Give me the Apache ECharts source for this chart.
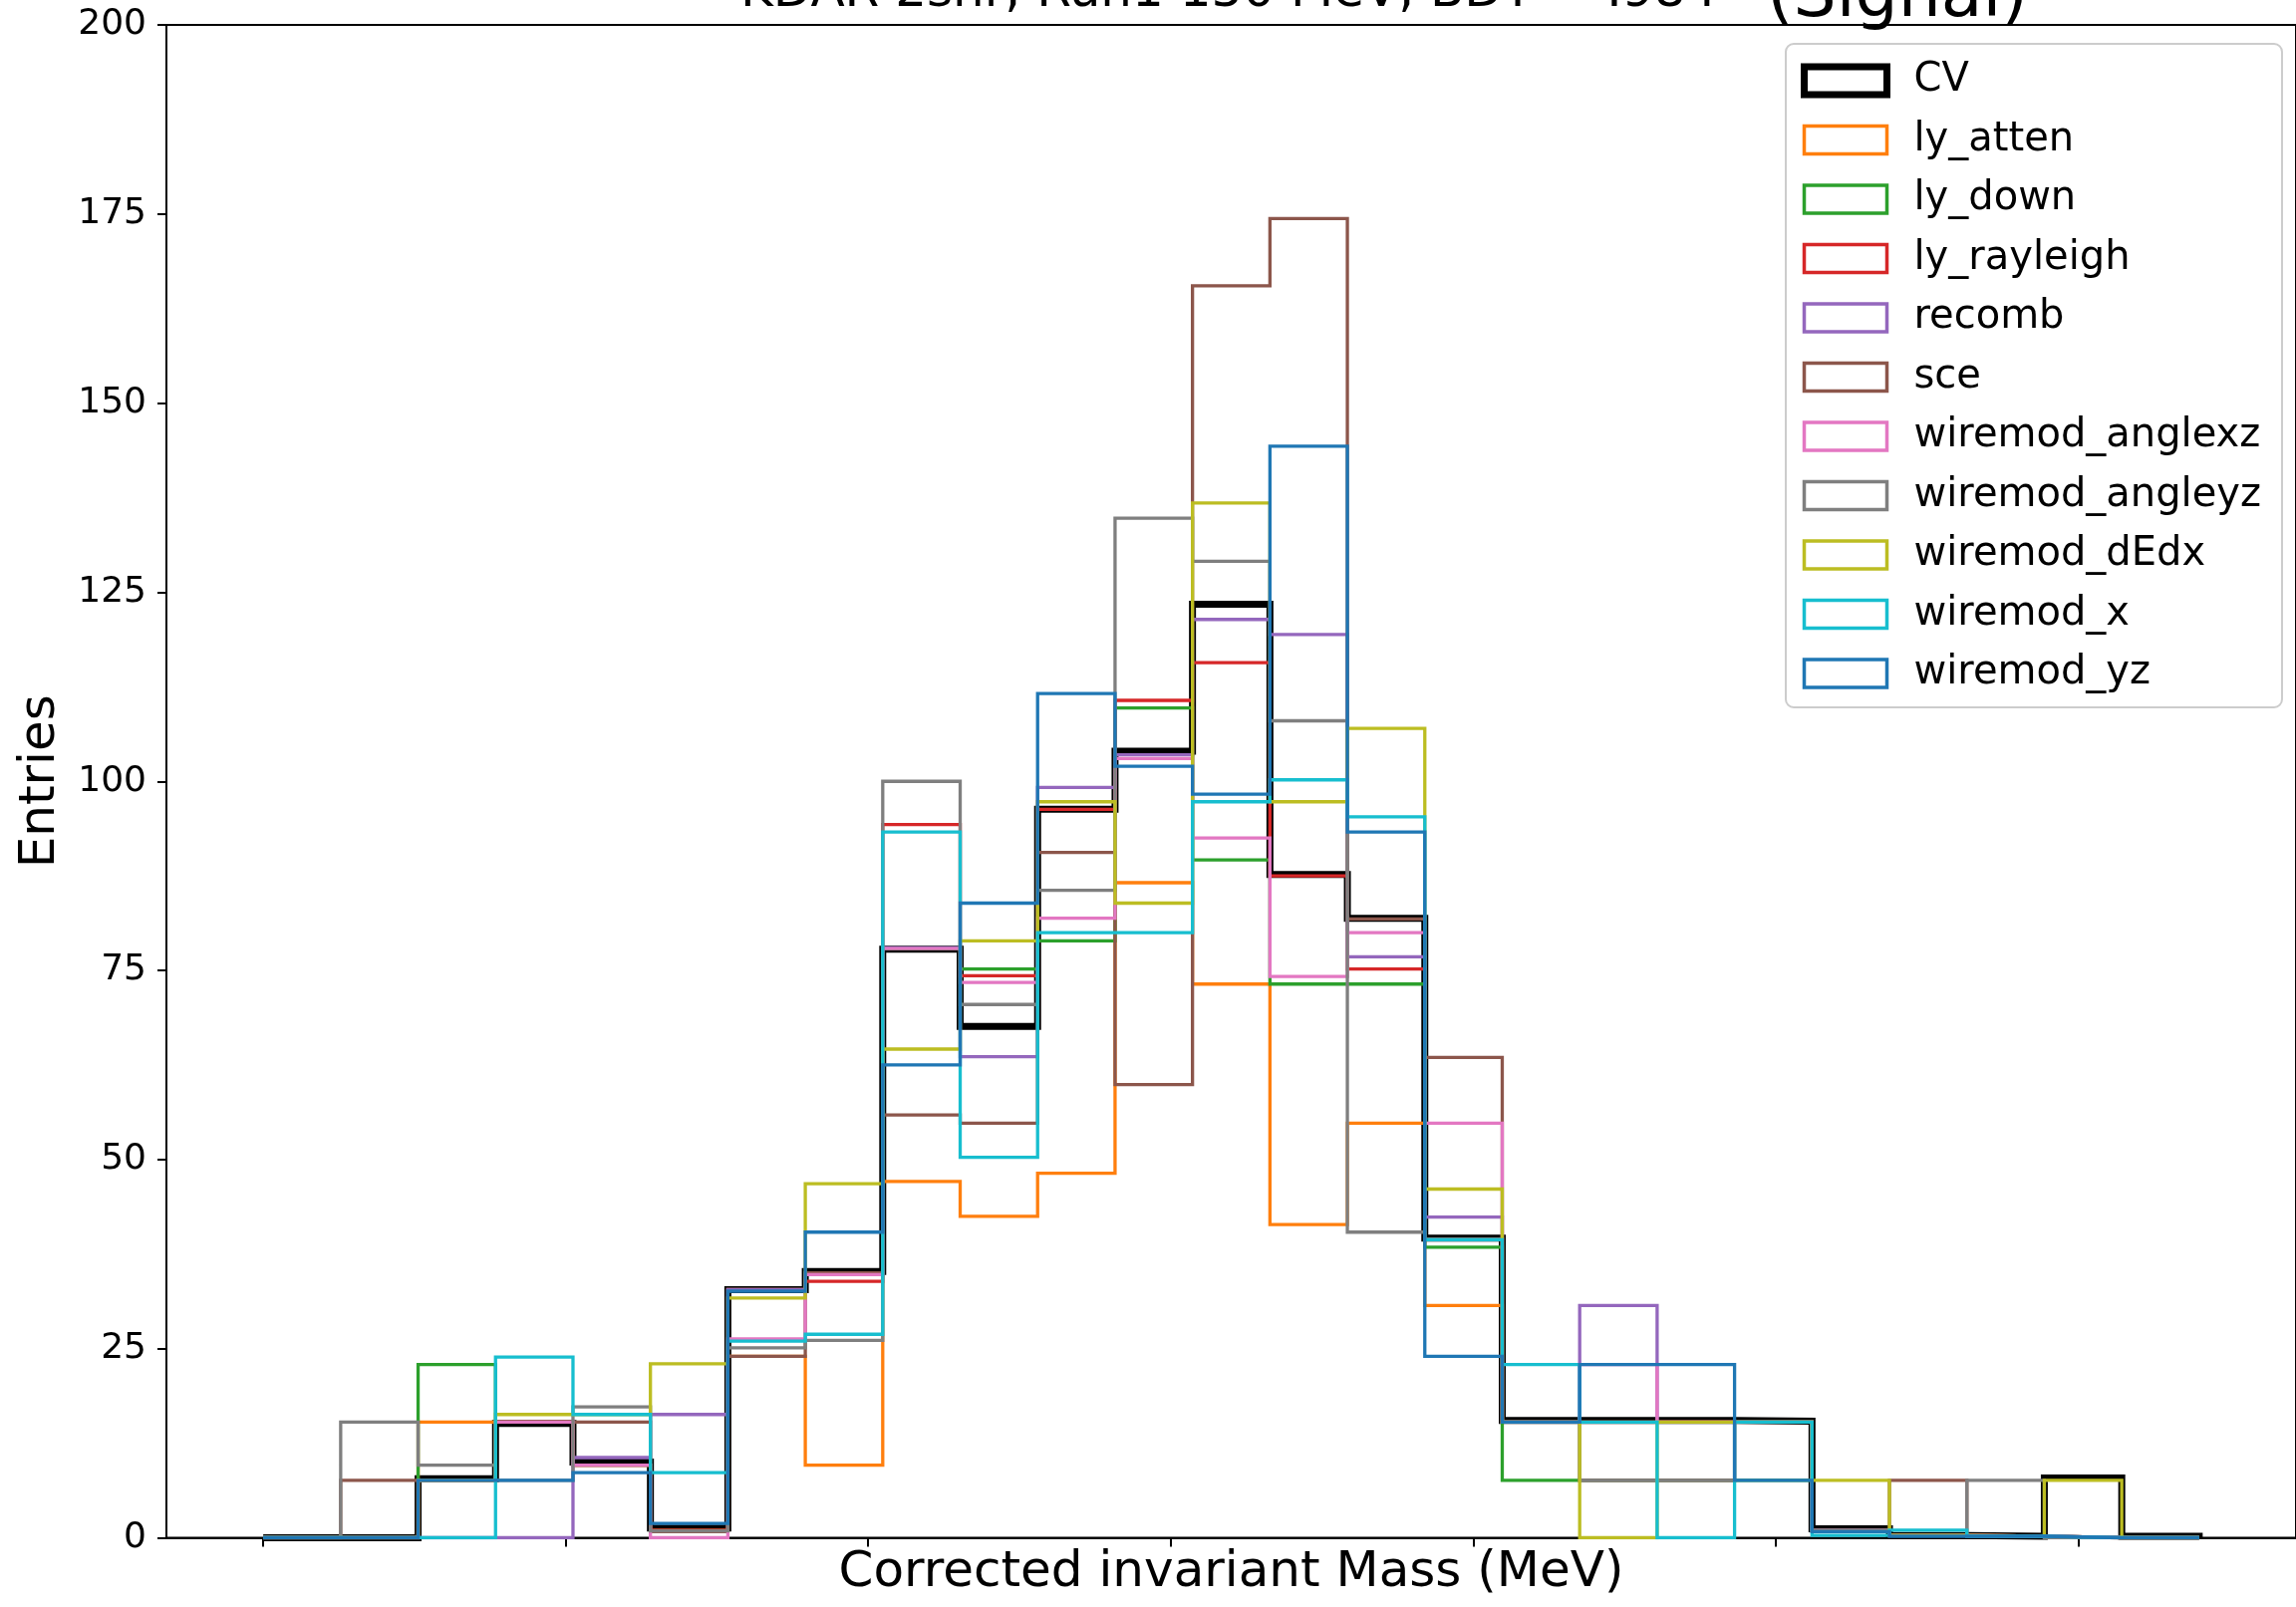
<!DOCTYPE html>
<html><head><meta charset="utf-8">
<script src="https://cdn.jsdelivr.net/npm/echarts@6/dist/echarts.min.js"></script>
<style>html,body{margin:0;padding:0;background:#fff}#c{width:2304px;height:1613px}</style>
</head><body><div id="c"></div>
<script>
// Histogram bin edges (MeV), 25 bins from 0 to 320
const binEdges = [0,12.8,25.6,38.4,51.2,64,76.8,89.6,102.4,115.2,128,140.8,153.6,166.4,179.2,192,204.8,217.6,230.4,243.2,256,268.8,281.6,294.4,307.2,320];
const xTickValues = [0,50,100,150,200,250,300];

const seriesNames = ["CV","ly_atten","ly_down","ly_rayleigh","recomb","sce","wiremod_anglexz","wiremod_angleyz","wiremod_dEdx","wiremod_x","wiremod_yz"];
const seriesColors = ["#000000","#ff7f0e","#2ca02c","#d62728","#9467bd","#8c564b","#e377c2","#7f7f7f","#bcbd22","#17becf","#1f77b4"];

const CV              = [0,0,7.8,15.1,10.0,1.3,32.8,35.2,77.8,67.6,96.3,104.0,123.4,87.7,81.9,39.6,15.5,15.5,15.5,15.4,1.2,0.3,0.2,7.9,0.2];
const ly_atten        = [0,0,15.3,15.3,9.6,1.0,24.0,9.6,47.1,42.5,48.2,86.6,73.2,41.4,54.8,30.7,15.3,15.3,15.3,15.3,1.0,0.3,0.2,0,0];
const ly_down         = [0,0,22.9,15.3,9.6,1.0,32.8,35.0,77.9,75.2,78.9,109.7,89.6,73.2,73.2,38.4,7.6,7.6,7.6,7.6,1.0,0.3,0.2,0,0];
const ly_rayleigh     = [0,0,7.6,15.3,9.6,1.0,32.8,33.9,94.3,74.3,96.3,110.7,115.7,87.5,75.2,39.5,15.3,15.3,15.3,15.3,1.0,0.3,0.2,0,0];
const recomb          = [0,0,0,0,10.6,16.3,32.8,35.0,78.0,63.6,99.2,103.5,121.4,119.4,76.8,42.4,15.3,30.7,15.3,15.3,1.0,0.3,0.2,0,0];
const sce             = [0,7.6,7.6,15.3,15.3,0.8,24.0,35.0,55.9,54.8,90.6,59.9,165.5,174.4,81.8,63.5,15.3,7.6,7.6,15.3,1.0,7.6,0.2,0,0];
const wiremod_anglexz = [0,0,7.6,15.3,9.6,0,26.3,34.8,77.9,73.4,81.9,103.0,92.5,74.2,80.0,54.8,15.3,22.9,15.3,15.3,1.0,0.3,0.2,0,0];
const wiremod_angleyz = [0,15.3,9.6,7.6,17.3,0.9,25.1,26.1,100.0,70.5,85.6,134.8,129.1,108.0,40.4,39.5,15.3,7.6,7.6,15.3,1.0,0.3,7.6,0,0];
const wiremod_dEdx    = [0,0,7.6,16.3,16.3,23.0,31.7,46.8,64.6,78.9,97.3,83.9,136.8,97.3,107.0,46.1,15.3,0,15.3,15.3,7.6,0.3,0.2,7.6,0];
const wiremod_x       = [0,0,0,23.9,16.3,8.6,26.0,26.9,93.3,50.3,80.0,80.0,97.3,100.2,95.3,39.4,22.9,15.3,0,15.3,0.3,1.0,0.2,0,0];
const wiremod_yz      = [0,0,7.6,7.6,8.6,1.9,32.6,40.4,62.5,83.9,111.6,102.0,98.3,144.3,93.3,24.0,15.3,22.9,22.9,7.6,0.8,0.2,0.2,0,0];

const seriesValues = [CV,ly_atten,ly_down,ly_rayleigh,recomb,sce,wiremod_anglexz,wiremod_angleyz,wiremod_dEdx,wiremod_x,wiremod_yz];

const titleText = "KDAR 2shr, Run1 150 MeV, BDT = .984";
const titleTag = "(Signal)";
const xName = "Corrected invariant Mass (MeV)";
const yName = "Entries";

function stepData(vals){
  const n = vals.length;
  const d = [[binEdges[0], 0]];
  for (let i = 0; i < n; i++) d.push([binEdges[i], vals[i]]);
  d.push([binEdges[n], vals[n-1]]);
  d.push([binEdges[n], 0]);
  return d;
}

const FONT = "DejaVu Sans";
const chart = echarts.init(document.getElementById('c'), null, {renderer:'canvas'});
chart.setOption({
  animation: false,
  backgroundColor: '#ffffff',
  grid: {left:167, right:-1, top:25, bottom:69.5, containLabel:false, show:true, borderColor:'#000', borderWidth:2, backgroundColor:'transparent'},
  xAxis: {
    type:'value', min:-16, max:336,
    name: xName, nameLocation:'middle', nameGap:11,
    nameTextStyle:{fontFamily:FONT, fontSize:50, color:'#000'},
    axisLine:{show:true, onZero:false, lineStyle:{color:'#000', width:2}},
    axisTick:{show:true, length:9, lineStyle:{color:'#000', width:2}, customValues:xTickValues},
    axisLabel:{show:false},
    splitLine:{show:false}
  },
  yAxis: {
    type:'value', min:0, max:200, interval:25,
    name: yName, nameLocation:'middle', nameGap:101,
    nameTextStyle:{fontFamily:FONT, fontSize:50, color:'#000'},
    axisLine:{show:true, onZero:false, lineStyle:{color:'#000', width:2}},
    axisTick:{show:true, length:9, lineStyle:{color:'#000', width:2}},
    axisLabel:{show:true, margin:20, fontFamily:FONT, fontSize:36, color:'#000'},
    splitLine:{show:false}
  },
  legend: {
    orient:'vertical', left:1792, top:44,
    itemWidth:83, itemHeight:28, itemGap:19.5,
    padding:[17,21,14,15],
    backgroundColor:'rgba(255,255,255,0.8)', borderColor:'#cccccc', borderWidth:2, borderRadius:8,
    selectedMode:false,
    textStyle:{fontFamily:FONT, fontSize:40, color:'#000', padding:[0,0,0,22]},
    data: seriesNames.map((n,i)=>({name:n, icon:'rect', itemStyle:{color:'rgba(0,0,0,0)', borderColor:seriesColors[i], borderWidth: i===0 ? 7 : 3.5}}))
  },
  graphic: [
    {type:'text', x:743, y:-7.3, z:10, style:{text:titleText, fontFamily:FONT, fontSize:50, fill:'#000', align:'left', verticalAlign:'middle'}},
    {type:'text', x:1773, y:-1.5, z:10, style:{text:titleTag, fontFamily:FONT, fontSize:68, fill:'#000', align:'left', verticalAlign:'middle'}}
  ],
  series: seriesNames.map((n,i)=>({
    name:n, type:'line', step:'end', symbol:'none', showSymbol:false,
    data: stepData(seriesValues[i]),
    lineStyle:{color:seriesColors[i], width: i===0 ? 7 : 3.3, join:'miter'},
    itemStyle:{color:seriesColors[i]},
    emphasis:{disabled:true},
    clip:true
  }))
});
</script></body></html>
